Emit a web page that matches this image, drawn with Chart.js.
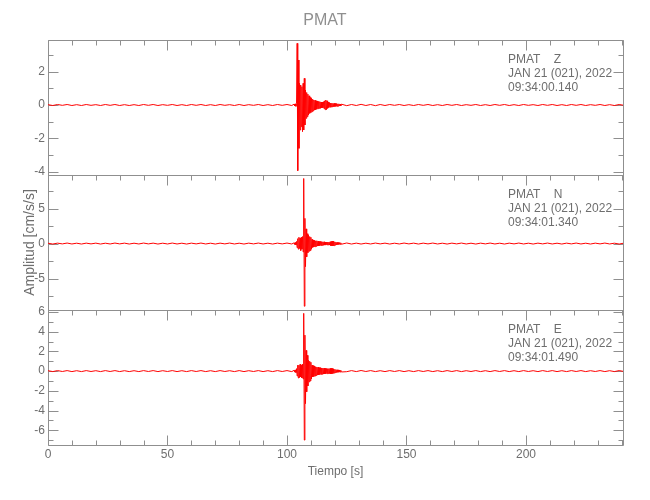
<!DOCTYPE html>
<html lang="es">
  <head>
    <meta charset="UTF-8" />
    <title>PMAT</title>
    <script src="https://cdn.jsdelivr.net/npm/chart.js"></script>
    <style>
      body { margin: 0; background: #fff; }
      canvas { display: block; }
    </style>
  </head>
  <body>
    <canvas id="seismo" width="650" height="500"></canvas>
    <script>
      // sampling of the traces (seconds)
      const PRE_START = 0, PRE_STEP = 2;
      const BURST_START = 103, BURST_STEP = 0.25;
      const POST_START = 125, POST_STEP = 2;

      // Z component [cm/s/s]
      const zPre = [0.02,-0.03,0.03,-0.02,0.03,-0.03,0.02,-0.03,0.03,-0.02,0.02,-0.03,0.03,-0.02,0.03,-0.03,0.02,-0.03,0.02,-0.03,0.03,-0.02,0.03,-0.03,0.02,-0.02,0.03,-0.03,0.02,-0.03,
        0.03,-0.02,0.03,-0.03,0.02,-0.03,0.03,-0.02,0.02,-0.03,0.03,-0.03,0.02,-0.02,0.03,-0.03,0.02,-0.03,0.03,-0.02,0.03,-0.03];
      const zBurst = [0.05,-0.06,0.07,-0.08,0.1,3.7,-3.94,2.7,-2.6,1.3,-1.5,1.2,-1.3,1.1,-1.6,1.3,-1.5,1.6,-1.2,0.9,
        -0.8,0.75,-0.7,0.65,-0.6,0.55,-0.5,0.45,-0.45,0.4,-0.4,0.35,-0.35,0.3,-0.3,0.28,-0.28,0.25,-0.25,0.24,
        -0.22,0.22,-0.2,0.2,-0.2,0.18,-0.18,0.18,-0.17,0.2,-0.22,0.25,-0.28,0.3,-0.28,0.25,-0.2,0.18,-0.15,0.14,
        -0.13,0.12,-0.12,0.11,-0.11,0.1,-0.1,0.1,-0.09,0.09,-0.08,0.08,-0.08,0.07,-0.07,0.07,-0.06,0.06,-0.06,0.05];
      const zPost = [-0.04,0.03,-0.03,0.04,-0.03,0.03,-0.04,0.03,-0.03,0.03,-0.02,0.03,-0.03,0.02,-0.03,0.03,-0.02,0.03,-0.03,0.02,-0.03,0.03,-0.02,0.03,-0.03,0.02,-0.02,0.03,-0.03,0.02,
        -0.03,0.03,-0.02,0.03,-0.03,0.02,-0.03,0.03,-0.02,0.02,-0.03,0.03,-0.02,0.03,-0.03,0.02,-0.03,0.03,-0.02,0.03,-0.03,0.02,-0.02,0.03,-0.03,0.02,-0.03,0.03,-0.02];

      // N component
      const nPre = [0.05,-0.07,0.06,-0.05,0.07,-0.06,0.05,-0.07,0.06,-0.05,0.06,-0.07,0.05,-0.06,0.07,-0.05,0.06,-0.07,0.05,-0.06,0.07,-0.05,0.06,-0.07,0.05,-0.06,0.07,-0.06,0.05,-0.07,
        0.06,-0.05,0.07,-0.06,0.05,-0.07,0.06,-0.05,0.07,-0.06,0.05,-0.07,0.06,-0.05,0.07,-0.06,0.05,-0.07,0.06,-0.05,0.07,-0.06];
      const nBurst = [0.1,-0.12,0.15,-0.2,0.3,-0.6,0.7,-0.8,0.9,-0.7,0.8,-1.0,0.9,-0.8,1.0,-1.2,9.3,-8.96,3.6,-3.3,
        2.1,-1.9,1.4,-1.3,1.2,-1.1,1.0,-1.0,0.9,-0.8,0.6,-0.55,0.5,-0.5,0.45,-0.45,0.4,-0.4,0.4,-0.35,
        0.35,-0.35,0.3,-0.3,0.3,-0.28,0.28,-0.26,0.25,-0.25,0.25,-0.22,0.22,-0.22,0.2,-0.2,0.2,-0.2,0.2,-0.22,
        0.25,-0.28,0.3,-0.32,0.35,-0.35,0.32,-0.3,0.25,-0.22,0.2,-0.18,0.16,-0.15,0.14,-0.13,0.12,-0.12,0.11,-0.1];
      const nPost = [0.08,-0.07,0.06,-0.07,0.05,-0.06,0.07,-0.05,0.06,-0.07,0.05,-0.06,0.07,-0.05,0.06,-0.07,0.06,-0.05,0.07,-0.06,0.05,-0.07,0.06,-0.05,0.07,-0.06,0.05,-0.07,0.06,-0.05,
        0.07,-0.06,0.05,-0.07,0.06,-0.05,0.07,-0.06,0.05,-0.07,0.06,-0.05,0.07,-0.06,0.05,-0.07,0.06,-0.05,0.07,-0.06,0.05,-0.07,0.06,-0.05,0.07,-0.06,0.05,-0.07,0.06];

      // E component
      const ePre = [0.04,-0.05,0.05,-0.04,0.05,-0.05,0.04,-0.05,0.05,-0.04,0.04,-0.05,0.05,-0.04,0.05,-0.05,0.04,-0.05,0.04,-0.05,0.05,-0.04,0.05,-0.05,0.04,-0.04,0.05,-0.05,0.04,-0.05,
        0.05,-0.04,0.05,-0.05,0.04,-0.05,0.05,-0.04,0.04,-0.05,0.05,-0.05,0.04,-0.04,0.05,-0.05,0.04,-0.05,0.05,-0.04,0.05,-0.05];
      const eBurst = [0.08,-0.1,0.12,-0.15,0.25,-0.5,0.6,-0.7,0.6,-0.65,0.7,-0.6,0.6,-0.7,0.7,-0.8,5.86,-7.0,3.65,-3.3,
        2.1,-2.1,1.6,-1.5,1.1,-1.1,1.0,-1.0,0.9,-0.8,0.6,-0.6,0.55,-0.55,0.5,-0.5,0.45,-0.45,0.4,-0.4,
        0.4,-0.38,0.35,-0.35,0.35,-0.33,0.32,-0.32,0.3,-0.3,0.3,-0.28,0.28,-0.27,0.26,-0.26,0.25,-0.25,0.25,-0.26,
        0.27,-0.28,0.29,-0.28,0.26,-0.24,0.22,-0.2,0.18,-0.16,0.15,-0.14,0.13,-0.12,0.12,-0.11,0.1,-0.1,0.09,-0.09];
      const ePost = [-0.06,0.05,-0.05,0.06,-0.04,0.05,-0.05,0.04,-0.05,0.05,-0.04,0.05,-0.05,0.04,-0.05,0.05,-0.04,0.05,-0.05,0.04,-0.05,0.05,-0.04,0.05,-0.05,0.04,-0.04,0.05,-0.05,0.04,
        -0.05,0.05,-0.04,0.05,-0.05,0.04,-0.05,0.05,-0.04,0.04,-0.05,0.05,-0.04,0.05,-0.05,0.04,-0.05,0.05,-0.04,0.05,-0.05,0.04,-0.04,0.05,-0.05,0.04,-0.05,0.05,-0.04];

      // axis ranges and [minor, major] tick steps
      const xRange = [0, 240.6];
      const zRange = [-4.2, 3.9];
      const nRange = [-9.5, 9.8];
      const eRange = [-7.5, 6.2];
      const tickSteps = { x: [10, 50], yZ: [1, 2], yN: [2.5, 5], yE: [1, 2] };

      // header text in each panel
      const station = "PMAT";
      const channels = ["Z", "N", "E"];
      const dateLine = "JAN 21 (021), 2022";
      const startTimes = ["09:34:00.140", "09:34:01.340", "09:34:01.490"];

      const FONT = '"Liberation Sans", Arial, sans-serif';
      const GRAY = "#8f8f8f";
      const TEXT = "#6e6e6e";

      function trace(pre, burst, post) {
        const pts = [];
        pre.forEach((v, i) => pts.push({ x: PRE_START + i * PRE_STEP, y: v }));
        burst.forEach((v, i) => pts.push({ x: BURST_START + i * BURST_STEP, y: v }));
        post.forEach((v, i) => pts.push({ x: POST_START + i * POST_STEP, y: v }));
        return pts;
      }

      function isMultiple(v, step) {
        const r = v / step;
        return Math.abs(r - Math.round(r)) < 1e-6;
      }

      function yScale(id, range, extra) {
        const [minor, major] = tickSteps[id];
        return Object.assign({
          type: "linear",
          position: "left",
          stack: "panels",
          stackWeight: 1,
          offset: false,
          min: range[0],
          max: range[1],
          border: { display: false },
          grid: { display: false, drawTicks: false },
          ticks: {
            stepSize: minor,
            includeBounds: false,
            autoSkip: false,
            maxTicksLimit: 100,
            padding: 3,
            color: TEXT,
            font: { family: FONT, size: 12 },
            callback: (v) => (isMultiple(v, major) ? String(Math.round(v)) : ""),
          },
          afterFit: (axis) => { axis.width = 48; },
        }, extra || {});
      }

      // frame, panel separators and inward tick marks
      const framePlugin = {
        id: "frame",
        beforeDatasetsDraw(chart) {
          const { ctx, chartArea: a, scales } = chart;
          const px = (v) => Math.round(v) + 0.5;
          const L = px(a.left), R = px(a.right), T = px(a.top), B = px(a.bottom);
          ctx.save();
          ctx.strokeStyle = GRAY;
          ctx.lineWidth = 1;
          ctx.beginPath();
          ctx.rect(L, T, R - L, B - T);
          ["yZ", "yN", "yE"].forEach((id) => {
            const s = scales[id];
            const [minor, major] = tickSteps[id];
            const top = px(s.top);
            ctx.moveTo(L, top);
            ctx.lineTo(R, top);
            s.ticks.forEach((t) => {
              if (!isMultiple(t.value, minor)) return;
              const len = isMultiple(t.value, major) ? 10 : 5;
              const y = px(s.getPixelForValue(t.value));
              ctx.moveTo(L, y); ctx.lineTo(L + len, y);
              ctx.moveTo(R, y); ctx.lineTo(R - len, y);
            });
            const [xMinor, xMajor] = tickSteps.x;
            scales.x.ticks.forEach((t) => {
              if (!isMultiple(t.value, xMinor)) return;
              const len = isMultiple(t.value, xMajor) ? 10 : 5;
              const x = px(scales.x.getPixelForValue(t.value));
              ctx.moveTo(x, top); ctx.lineTo(x, top + len);
              if (id === "yE") { ctx.moveTo(x, B); ctx.lineTo(x, B - len); }
            });
          });
          ctx.stroke();
          ctx.restore();
        },
        afterDraw(chart) {
          const { ctx, chartArea: a, scales } = chart;
          ctx.save();
          ctx.fillStyle = TEXT;
          ctx.font = "12px " + FONT;
          ctx.textBaseline = "middle";
          ["yZ", "yN", "yE"].forEach((id, i) => {
            const top = scales[id].top;
            const x = a.right - 115;
            ctx.fillText(station + "    " + channels[i], x, top + 20);
            ctx.fillText(dateLine, x, top + 34);
            ctx.fillText(startTimes[i], x, top + 48);
          });
          ctx.restore();
        },
      };

      const line = (data, axis) => ({
        data: data,
        yAxisID: axis,
        borderColor: "#ff0000",
        borderWidth: 1,
        pointRadius: 0,
        tension: 0,
        fill: false,
      });

      new Chart(document.getElementById("seismo").getContext("2d"), {
        type: "line",
        data: {
          datasets: [
            line(trace(zPre, zBurst, zPost), "yZ"),
            line(trace(nPre, nBurst, nPost), "yN"),
            line(trace(ePre, eBurst, ePost), "yE"),
          ],
        },
        options: {
          responsive: false,
          animation: false,
          events: [],
          layout: { padding: 0 },
          plugins: {
            legend: { display: false },
            tooltip: { enabled: false },
            title: {
              display: true,
              text: station,
              color: GRAY,
              font: { family: FONT, size: 16, weight: "normal" },
              padding: { top: 11, bottom: 9.8 },
            },
          },
          scales: {
            x: {
              type: "linear",
              position: "bottom",
              min: xRange[0],
              max: xRange[1],
              border: { display: false },
              grid: { display: false, drawTicks: false },
              ticks: {
                stepSize: tickSteps.x[0],
                includeBounds: false,
                autoSkip: false,
                maxTicksLimit: 100,
                maxRotation: 0,
                padding: 2,
                color: TEXT,
                font: { family: FONT, size: 12 },
                callback: (v) => (isMultiple(v, tickSteps.x[1]) ? String(v) : ""),
              },
              title: {
                display: true,
                text: "Tiempo [s]",
                color: TEXT,
                font: { family: FONT, size: 12 },
                padding: { top: 0, bottom: 21 },
              },
              afterFit: (axis) => { axis.height = 55; },
            },
            yE: yScale("yE", eRange),
            yN: yScale("yN", nRange, {
              title: {
                display: true,
                text: "Amplitud [cm/s/s]",
                color: TEXT,
                font: { family: FONT, size: 14 },
                padding: { top: 22, bottom: 0 },
              },
            }),
            yZ: yScale("yZ", zRange),
            // empty right margin
            yPad: {
              type: "linear",
              position: "right",
              display: true,
              border: { display: false },
              grid: { display: false, drawTicks: false },
              ticks: { display: false },
              afterFit: (axis) => { axis.width = 27; },
            },
          },
        },
        plugins: [framePlugin],
      });
    </script>
  </body>
</html>
